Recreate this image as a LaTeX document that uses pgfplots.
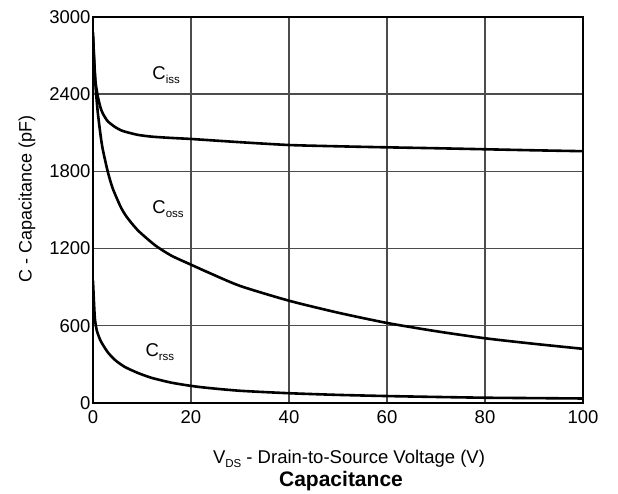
\documentclass[border=0pt]{standalone}
\usepackage{pgfplots}
\pgfplotsset{compat=1.18}
\usepackage{fontspec}
\setmainfont{Liberation Sans}
\newcommand{\sub}[1]{\raisebox{-0.45ex}{\fontsize{11.5}{12}\selectfont #1}}
\begin{document}
\begin{tikzpicture}
\useasboundingbox (0,0) rectangle (618pt,494pt);
\begin{axis}[
  at={(93pt,91pt)}, anchor=south west, scale only axis,
  width=490pt, height=386pt,
  xmin=0, xmax=100, ymin=0, ymax=3000,
  xtick={0,20,...,100}, ytick={0,600,...,3000},
  grid=major, major grid style={line width=1.4pt, black!70},
  axis line style={line width=1.6pt},
  tick style={draw=none},
  ticklabel style={font=\fontsize{18.5}{20}\selectfont},
  /pgf/number format/assume math mode=true,
  /pgf/number format/1000 sep={},
  xticklabel style={yshift=-4pt},
  yticklabel style={xshift=1pt},
]
\addplot[line width=2.6pt, black, smooth, tension=0.4] coordinates {
(0,2880) (0.2,2700) (0.5,2500) (1,2380) (1.5,2300) (2,2250) (3,2190) (4.5,2145) (6,2115) (9,2085) (12,2070) (16,2060) (20,2052) (30,2027) (40,2005) (50,1995) (60,1987) (70,1980) (80,1972) (90,1964) (100,1957)};
\addplot[line width=2.6pt, black, smooth, tension=0.4] coordinates {
(0,2850) (0.3,2600) (0.6,2420) (1,2250) (1.6,2065) (2,1970) (3,1800) (4,1670) (5.7,1520) (7,1440) (9.2,1340) (12.7,1225) (16,1145) (20,1075) (23.5,1015) (30,910) (40,795) (50,702) (60,622) (70,558) (80,503) (90,460) (100,421)};
\addplot[line width=2.6pt, black, smooth, tension=0.4] coordinates {
(0,950) (0.2,780) (0.4,650) (0.8,560) (1.6,480) (3,395) (4.5,334) (6.5,280) (9.2,233) (12,195) (16,158) (20,133) (23.5,117) (30,95) (40,76) (50,63) (60,54) (70,47) (80,41) (90,38) (100,35)};
\node[anchor=west, font=\fontsize{18.5}{20}\selectfont] at (axis cs:11.4,2550) {C\sub{iss}};
\node[anchor=west, font=\fontsize{18.5}{20}\selectfont] at (axis cs:11.4,1507) {C\sub{oss}};
\node[anchor=west, font=\fontsize{18.5}{20}\selectfont] at (axis cs:10.0,396) {C\sub{rss}};
\end{axis}
\node[font=\fontsize{18.5}{20}\selectfont] at (349pt,35pt) {V\sub{DS} - Drain-to-Source Voltage (V)};
\node[font=\fontsize{21}{22}\selectfont\bfseries] at (341pt,13pt) {Capacitance};
\node[rotate=90, font=\fontsize{18}{20}\selectfont] at (27pt,295pt) {C - Capacitance (pF)};
\end{tikzpicture}
\end{document}
